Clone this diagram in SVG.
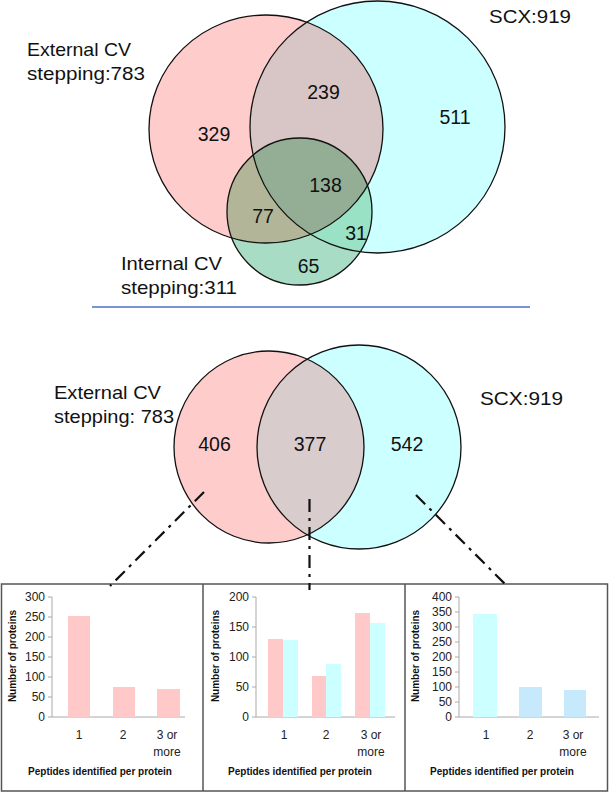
<svg xmlns="http://www.w3.org/2000/svg" width="610" height="793" viewBox="0 0 610 793">
<style>
text{font-family:"Liberation Sans",Arial,sans-serif;fill:#111}
.vl{font-size:18.5px}
.vn{font-size:19.5px;text-anchor:middle}
.tk{font-size:12px;text-anchor:end;fill:#222}
.xl{font-size:12px;text-anchor:middle;fill:#222}
.tt{font-size:10px;font-weight:bold;text-anchor:middle;fill:#111}
.ol{fill:none;stroke:#111;stroke-width:1.3}
.ax{stroke:#aaa;stroke-width:1;fill:none}
.pk{fill:#ffc9c9}
.cy{fill:#ccffff}
.lb{fill:#c6e9fb}
.dd{fill:none;stroke:#111;stroke-width:2.2;stroke-dasharray:13 6 3 6}
.box{fill:#fff;stroke:#555;stroke-width:1.5}
</style>
<defs>
<clipPath id="cpC"><ellipse cx="377.5" cy="127" rx="127.5" ry="126"/></clipPath>
<clipPath id="cpG"><ellipse cx="299.5" cy="211.5" rx="72.5" ry="73.5"/></clipPath>
<clipPath id="cpC2"><ellipse cx="359" cy="447" rx="102" ry="102"/></clipPath>
</defs>
<rect width="610" height="793" fill="#fff"/>

<g id="venn-top">
<ellipse cx="266" cy="129" rx="117" ry="114" fill="#ffcccc"/>
<ellipse cx="377.5" cy="127" rx="127.5" ry="126" fill="#ccffff"/>
<ellipse cx="266" cy="129" rx="117" ry="114" fill="#d8c5c5" clip-path="url(#cpC)"/>
<g clip-path="url(#cpG)">
<rect x="220" y="130" width="160" height="160" fill="#a8dcc4"/>
<ellipse cx="266" cy="129" rx="117" ry="114" fill="#b2b597"/>
<ellipse cx="377.5" cy="127" rx="127.5" ry="126" fill="#99e2c6"/>
<ellipse cx="266" cy="129" rx="117" ry="114" fill="#93ae95" clip-path="url(#cpC)"/>
</g>
<ellipse class="ol" cx="266" cy="129" rx="117" ry="114"/>
<ellipse class="ol" cx="377.5" cy="127" rx="127.5" ry="126"/>
<ellipse class="ol" cx="299.5" cy="211.5" rx="72.5" ry="73.5"/>
<text class="vl" x="27" y="56" textLength="104" lengthAdjust="spacingAndGlyphs">External CV</text>
<text class="vl" x="27" y="80" textLength="118" lengthAdjust="spacingAndGlyphs">stepping:783</text>
<text class="vl" x="489" y="23" textLength="82" lengthAdjust="spacingAndGlyphs">SCX:919</text>
<text class="vl" x="121" y="270" textLength="101" lengthAdjust="spacingAndGlyphs">Internal CV</text>
<text class="vl" x="121" y="294" textLength="116" lengthAdjust="spacingAndGlyphs">stepping:311</text>
<text class="vn" x="323.5" y="99">239</text>
<text class="vn" x="455" y="124">511</text>
<text class="vn" x="214" y="141">329</text>
<text class="vn" x="325.5" y="192">138</text>
<text class="vn" x="263" y="223">77</text>
<text class="vn" x="356" y="240">31</text>
<text class="vn" x="308.5" y="273">65</text>
</g>

<g id="divider">
<line x1="92" y1="307" x2="530" y2="307" stroke="#4a72c0" stroke-width="1.5"/>
</g>

<g id="venn-bottom">
<ellipse cx="269" cy="447" rx="95" ry="96" fill="#ffcccc"/>
<ellipse cx="359" cy="447" rx="102" ry="102" fill="#ccffff"/>
<ellipse cx="269" cy="447" rx="95" ry="96" fill="#d9cccc" clip-path="url(#cpC2)"/>
<ellipse class="ol" cx="269" cy="447" rx="95" ry="96"/>
<ellipse class="ol" cx="359" cy="447" rx="102" ry="102"/>
<text class="vl" x="54" y="399" textLength="107" lengthAdjust="spacingAndGlyphs">External CV</text>
<text class="vl" x="54" y="423" textLength="120" lengthAdjust="spacingAndGlyphs">stepping: 783</text>
<text class="vl" x="480" y="405" textLength="83" lengthAdjust="spacingAndGlyphs">SCX:919</text>
<text class="vn" x="214.5" y="451">406</text>
<text class="vn" x="310" y="451">377</text>
<text class="vn" x="407" y="451">542</text>
</g>

<g id="panels">
<rect class="box" x="1.5" y="584" width="606" height="207"/>
<line x1="203" y1="584" x2="203" y2="791" stroke="#555" stroke-width="1.5"/>
<line x1="405" y1="584" x2="405" y2="791" stroke="#555" stroke-width="1.5"/>
</g>

<g id="chart-left">
<path class="ax" d="M52 597V717H185M48 597H52M48 617H52M48 637H52M48 657H52M48 677H52M48 697H52M48 717H52"/>
<text class="tk" x="45" y="601">300</text>
<text class="tk" x="45" y="621">250</text>
<text class="tk" x="45" y="641">200</text>
<text class="tk" x="45" y="661">150</text>
<text class="tk" x="45" y="681">100</text>
<text class="tk" x="45" y="701">50</text>
<text class="tk" x="45" y="721">0</text>
<rect class="pk" x="68" y="616" width="22" height="101"/>
<rect class="pk" x="113" y="687" width="22" height="30"/>
<rect class="pk" x="157" y="689" width="23" height="28"/>
<text class="xl" x="79" y="739">1</text>
<text class="xl" x="123" y="739">2</text>
<text class="xl" x="167" y="739">3 or</text>
<text class="xl" x="167" y="756">more</text>
<text class="tt" transform="translate(16 656) rotate(-90)">Number of proteins</text>
<text class="tt" x="100" y="775">Peptides identified per protein</text>
</g>

<g id="chart-middle">
<path class="ax" d="M256 597V717H395M252 597H256M252 627H256M252 657H256M252 687H256M252 717H256"/>
<text class="tk" x="249" y="601">200</text>
<text class="tk" x="249" y="631">150</text>
<text class="tk" x="249" y="661">100</text>
<text class="tk" x="249" y="691">50</text>
<text class="tk" x="249" y="721">0</text>
<rect class="pk" x="268" y="639" width="15" height="78"/>
<rect class="cy" x="283" y="640" width="15" height="77"/>
<rect class="pk" x="312" y="676" width="14" height="41"/>
<rect class="cy" x="326" y="664" width="15" height="53"/>
<rect class="pk" x="355" y="613" width="15" height="104"/>
<rect class="cy" x="370" y="623" width="15" height="94"/>
<text class="xl" x="284" y="739">1</text>
<text class="xl" x="326" y="739">2</text>
<text class="xl" x="371" y="739">3 or</text>
<text class="xl" x="371" y="756">more</text>
<text class="tt" transform="translate(219 656) rotate(-90)">Number of proteins</text>
<text class="tt" x="300" y="775">Peptides identified per protein</text>
</g>

<g id="chart-right">
<path class="ax" d="M459 597V717H599M455 597H459M455 612H459M455 627H459M455 642H459M455 657H459M455 672H459M455 687H459M455 702H459M455 717H459"/>
<text class="tk" x="452" y="601">400</text>
<text class="tk" x="452" y="616">350</text>
<text class="tk" x="452" y="631">300</text>
<text class="tk" x="452" y="646">250</text>
<text class="tk" x="452" y="661">200</text>
<text class="tk" x="452" y="676">150</text>
<text class="tk" x="452" y="691">100</text>
<text class="tk" x="452" y="706">50</text>
<text class="tk" x="452" y="721">0</text>
<rect class="cy" x="473" y="614" width="24" height="103"/>
<rect class="lb" x="519" y="687" width="23" height="30"/>
<rect class="lb" x="564" y="690" width="22" height="27"/>
<text class="xl" x="486" y="739">1</text>
<text class="xl" x="530" y="739">2</text>
<text class="xl" x="573" y="739">3 or</text>
<text class="xl" x="573" y="756">more</text>
<text class="tt" transform="translate(419 656) rotate(-90)">Number of proteins</text>
<text class="tt" x="502" y="775">Peptides identified per protein</text>
</g>

<g id="connectors">
<line class="dd" x1="204" y1="492" x2="110" y2="586"/>
<line class="dd" x1="309.5" y1="499" x2="309.5" y2="590"/>
<line class="dd" x1="416" y1="495" x2="508" y2="587"/>
</g>
</svg>
